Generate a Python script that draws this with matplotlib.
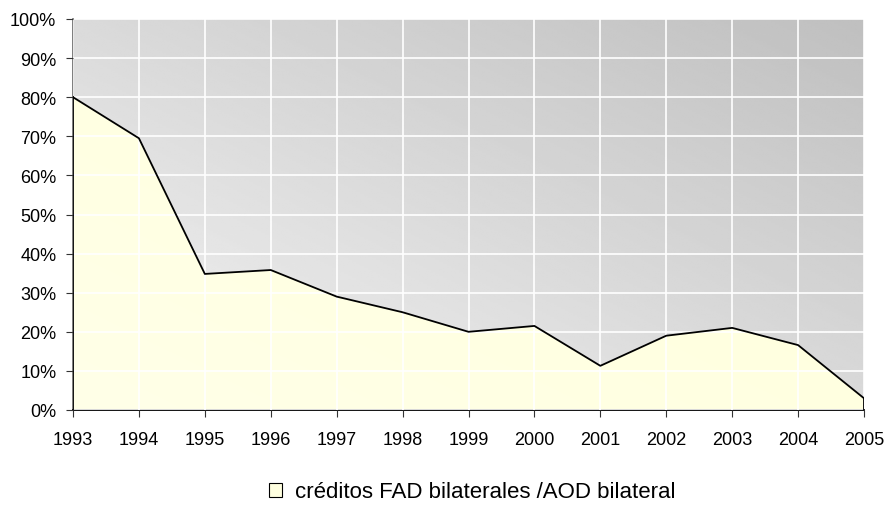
import numpy as np
import matplotlib
matplotlib.use("Agg")
from matplotlib import pyplot as plt
from matplotlib.patches import Patch
from matplotlib.ticker import PercentFormatter

plt.rcParams['font.family'] = ['Liberation Sans', 'DejaVu Sans']

years = [1993, 1994, 1995, 1996, 1997, 1998, 1999, 2000, 2001, 2002, 2003, 2004, 2005]
ratio = [0.80, 0.695, 0.348, 0.358, 0.29, 0.25, 0.20, 0.215, 0.113, 0.19, 0.21, 0.166, 0.03]
series_label = "créditos FAD bilaterales /AOD bilateral"

fig = plt.figure(figsize=(8.85, 5.06), dpi=100)
ax = fig.add_axes([73 / 885, 1 - 411 / 506, (864 - 73) / 885, (411 - 20) / 506])

x0, x1 = years[0], years[-1]
ax.set_xlim(x0, x1)
ax.set_ylim(0, 1)

# background gradient: light at bottom-left, darker at top-right
n = 200
gx, gy = np.meshgrid(np.linspace(0, 1, n), np.linspace(0, 1, n))
g = (gx * 0.5 + gy * 0.5)
bg = 0.96 - 0.21 * g
ax.imshow(bg, cmap='gray', vmin=0, vmax=1, origin='lower', aspect='auto',
          extent=[x0, x1, 0, 1], zorder=0, interpolation='bilinear')

ax.set_xticks(years)
ax.set_yticks(np.arange(0, 1.01, 0.1))
ax.grid(True, color='white', linewidth=1.2, zorder=1)
ax.set_axisbelow(False)

# area with soft yellow gradient
poly = ax.fill_between(years, ratio, 0, facecolor='none', edgecolor='none', zorder=2)
fill_grad = np.dstack([np.ones((n, n)), np.ones((n, n)),
                       0.91 - 0.06 * (gx * 0.5 + gy * 0.5), np.ones((n, n))])
im = ax.imshow(fill_grad, origin='lower', aspect='auto', extent=[x0, x1, 0, 1],
               zorder=2, interpolation='bilinear')
im.set_clip_path(poly.get_paths()[0], transform=ax.transData)
ax.plot(years, ratio, color='black', linewidth=1.3, zorder=3)
ax.plot([x1, x1], [0, ratio[-1]], color='black', linewidth=1.3, zorder=3)
ax.plot([x0, x0], [0, ratio[0]], color='black', linewidth=1.3, zorder=3)

ax.yaxis.set_major_formatter(PercentFormatter(1.0, decimals=0))
ax.tick_params(axis='both', labelsize=13, direction='out', length=5, color='#333333')
ax.tick_params(axis='x', pad=10)
ax.tick_params(axis='y', pad=7)
for s in ['top', 'right']:
    ax.spines[s].set_visible(False)
ax.spines['left'].set_color('#666666')
ax.spines['bottom'].set_color('black')
ax.spines['bottom'].set_linewidth(1.3)
ax.spines['left'].set_linewidth(1.2)

handle = Patch(facecolor='#ffffe0', edgecolor='black', linewidth=0.8)
fig.legend([handle], [series_label], loc='center', bbox_to_anchor=(472 / 885, 1 - 493 / 506),
           frameon=False, fontsize=16, handlelength=0.58, handleheight=0.58, handletextpad=0.6,
           borderpad=0, borderaxespad=0)

fig.savefig('out.png', dpi=100)
